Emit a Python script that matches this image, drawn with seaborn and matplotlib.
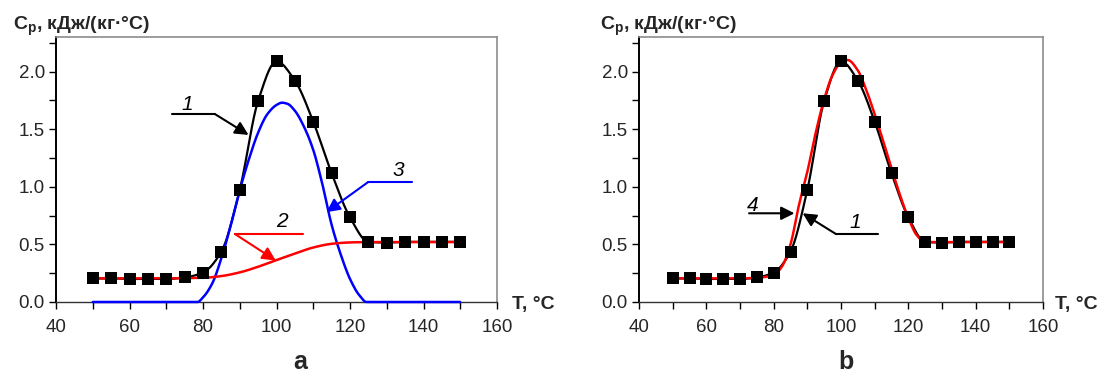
import numpy as np
import matplotlib
matplotlib.use("Agg")
import matplotlib.pyplot as plt
import seaborn as sns

# --- data ---
# experimental points (curve 1)
T_exp = [50, 55, 60, 65, 70, 75, 80, 85, 90, 95, 100, 105, 110, 115, 120, 125, 130, 135, 140, 145, 150]
Cp_exp = [0.205, 0.205, 0.20, 0.20, 0.20, 0.213, 0.256, 0.438, 0.974, 1.746, 2.089, 1.922, 1.565,
          1.118, 0.735, 0.522, 0.516, 0.522, 0.522, 0.522, 0.522]

# curve 2: baseline (red, panel a)
T_base = [50, 60, 70, 75, 80, 85, 90, 95, 100, 105, 110, 115, 120, 125, 130, 140, 150]
Cp_base = [0.205, 0.205, 0.205, 0.207, 0.21, 0.225, 0.257, 0.306, 0.364, 0.42, 0.473, 0.505,
           0.517, 0.52, 0.52, 0.52, 0.52]

# curve 3: transition peak (blue, panel a)
T_peak = [50, 78.5, 80, 82.5, 85, 87.5, 90, 92.5, 95, 97.5, 100, 101.5, 103, 105, 107.5, 110,
          112.5, 115, 117.5, 120, 122.5, 124.5, 150]
Cp_peak = [0, 0, 0.04, 0.16, 0.38, 0.66, 0.97, 1.24, 1.47, 1.63, 1.71, 1.73, 1.72, 1.66, 1.52,
           1.32, 1.02, 0.67, 0.41, 0.20, 0.06, 0, 0]

# curve 4: model (red, panel b)
T_model = [50, 60, 70, 75, 80, 82.5, 85, 87.5, 90, 92.5, 95, 97.5, 100, 102, 105, 107.5, 110,
           112.5, 115, 117.5, 120, 122.5, 125, 130, 140, 150]
Cp_model = [0.205, 0.205, 0.205, 0.21, 0.235, 0.31, 0.50, 0.84, 1.13, 1.47, 1.76, 1.97, 2.08,
            2.10, 2.01, 1.84, 1.63, 1.40, 1.16, 0.93, 0.73, 0.58, 0.52, 0.52, 0.52, 0.52]

x_ticks = [40, 60, 80, 100, 120, 140, 160]
y_ticks = [0.0, 0.5, 1.0, 1.5, 2.0]
ylabel = r"$\mathbf{C_p}$, кДж/(кг·°C)"
xlabel = "T, °C"
panel_names = ["a", "b"]


def smooth(x, y, n=400):
    # monotone cubic (pchip-like) rendering, like the smoothed lines of the original
    x = np.asarray(x, float)
    y = np.asarray(y, float)
    h = np.diff(x)
    d = np.diff(y) / h
    m = np.zeros_like(y)
    for i in range(1, len(x) - 1):
        if d[i - 1] * d[i] > 0:
            w1 = 2 * h[i] + h[i - 1]
            w2 = h[i] + 2 * h[i - 1]
            m[i] = (w1 + w2) / (w1 / d[i - 1] + w2 / d[i])
    m[0], m[-1] = d[0], d[-1]
    xs = np.linspace(x[0], x[-1], n)
    k = np.clip(np.searchsorted(x, xs) - 1, 0, len(x) - 2)
    t = (xs - x[k]) / h[k]
    ys = ((2 * t**3 - 3 * t**2 + 1) * y[k] + (t**3 - 2 * t**2 + t) * h[k] * m[k]
          + (-2 * t**3 + 3 * t**2) * y[k + 1] + (t**3 - t**2) * h[k] * m[k + 1])
    return xs, ys


sns.set_style("ticks")
plt.rcParams["font.family"] = ["Liberation Sans", "DejaVu Sans"]
plt.rcParams["mathtext.fontset"] = "custom"
plt.rcParams["mathtext.rm"] = "Liberation Sans"
plt.rcParams["mathtext.bf"] = "Liberation Sans:bold"

fig = plt.figure(figsize=(11.09, 3.76), dpi=100)
ax_a = fig.add_axes([56 / 1109, 74 / 376, 441 / 1109, 265 / 376])
ax_b = fig.add_axes([639 / 1109, 74 / 376, 404 / 1109, 265 / 376])


def style_axes(ax):
    ax.set_xlim(40, 160)
    ax.set_ylim(0, 2.3)
    ax.set_xticks(x_ticks)
    ax.set_xticks(np.arange(40, 161, 10), minor=True)
    ax.set_yticks(y_ticks)
    ax.set_yticks(np.arange(0, 2.3, 0.25), minor=True)
    ax.set_yticklabels([f"{v:.1f}" for v in y_ticks])
    ax.tick_params(which="both", direction="out", length=5, width=1, color="black",
                   labelsize=13.5)
    ax.tick_params(axis="x", pad=7)
    ax.tick_params(axis="y", pad=3)
    ax.set_xlabel("")
    ax.set_ylabel("")
    for side in ["top", "right"]:
        ax.spines[side].set_visible(True)
        ax.spines[side].set_color("#8c8c8c")
        ax.spines[side].set_linewidth(1.2)
    ax.spines["left"].set_color("black")
    ax.spines["left"].set_linewidth(1.4)
    ax.spines["bottom"].set_color("#333333")
    ax.spines["bottom"].set_linewidth(1.0)


def leader(ax, pts, tip, color, text, text_pos):
    xs, ys = zip(*pts)
    ax.plot(xs, ys, color=color, lw=1.5)
    ax.annotate("", xy=tip, xytext=pts[-1],
                arrowprops=dict(arrowstyle="-|>", color=color, lw=1.5,
                                mutation_scale=20, shrinkA=0, shrinkB=0))
    ax.text(*text_pos, text, fontsize=15, style="italic", ha="center", va="center", color="black")


# --- panel a ---
sx, sy = smooth(T_exp, Cp_exp)
sns.lineplot(x=sx, y=sy, ax=ax_a, color="black", lw=1.6, sort=False, estimator=None)
bx, by = smooth(T_peak, Cp_peak)
sns.lineplot(x=bx, y=by, ax=ax_a, color="#0000ff", lw=1.8, sort=False, estimator=None,
             clip_on=False, zorder=3)
rx, ry = smooth(T_base, Cp_base)
sns.lineplot(x=rx, y=ry, ax=ax_a, color="#ff0000", lw=1.8, sort=False, estimator=None, zorder=3)
sns.scatterplot(x=T_exp, y=Cp_exp, ax=ax_a, marker="s", s=65, color="black",
                edgecolor="black", linewidth=0, zorder=5)

leader(ax_a, [(71.6, 1.63), (83.3, 1.63)], (92.4, 1.45), "black", "1", (75.6, 1.71))
leader(ax_a, [(107.2, 0.59), (88.7, 0.59)], (99.8, 0.36), "#ff0000", "2", (101.5, 0.70))
leader(ax_a, [(136.9, 1.04), (124.9, 1.04)], (113.6, 0.78), "#0000ff", "3", (133.1, 1.14))

# --- panel b ---
sns.lineplot(x=sx, y=sy, ax=ax_b, color="black", lw=1.6, sort=False, estimator=None)
mx, my = smooth(T_model, Cp_model)
sns.lineplot(x=mx, y=my, ax=ax_b, color="#ff0000", lw=1.8, sort=False, estimator=None, zorder=3)
sns.scatterplot(x=T_exp, y=Cp_exp, ax=ax_b, marker="s", s=65, color="black",
                edgecolor="black", linewidth=0, zorder=5)

leader(ax_b, [(72.7, 0.77)], (86.2, 0.77), "black", "4", (73.8, 0.84))
leader(ax_b, [(111.0, 0.59), (98.5, 0.59)], (88.6, 0.77), "black", "1", (104.2, 0.69))

for ax in (ax_a, ax_b):
    style_axes(ax)

# axis titles placed like the original
fig.text(13 / 1109, 1 - 30 / 376, ylabel, fontsize=14, fontweight="bold", va="baseline")
fig.text(600 / 1109, 1 - 30 / 376, ylabel, fontsize=14, fontweight="bold", va="baseline")
fig.text(512 / 1109, 1 - 305 / 376, xlabel, fontsize=14, fontweight="bold", va="center")
fig.text(1055 / 1109, 1 - 305 / 376, xlabel, fontsize=14, fontweight="bold", va="center")
fig.text(300 / 1109, 1 - 362 / 376, panel_names[0], fontsize=18, fontweight="bold",
         ha="center", va="center")
fig.text(846 / 1109, 1 - 362 / 376, panel_names[1], fontsize=18, fontweight="bold",
         ha="center", va="center")

fig.savefig("out.png", dpi=100, facecolor="white")
